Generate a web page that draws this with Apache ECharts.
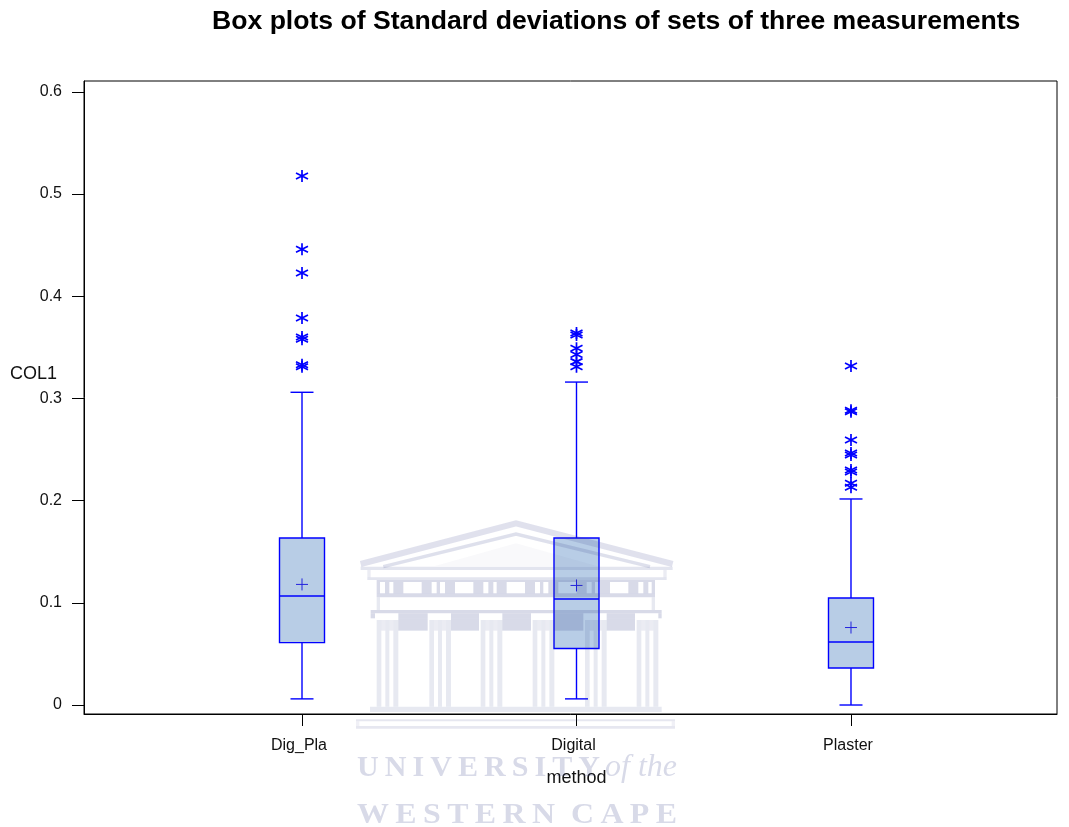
<!DOCTYPE html>
<html><head><meta charset="utf-8">
<style>html,body{margin:0;padding:0;background:#fff}#c{width:1069px;height:827px}</style>
<script src="https://cdn.jsdelivr.net/npm/echarts@6/dist/echarts.min.js"></script>
</head><body><div id="c"></div>
<script>
const categories = ['Dig_Pla', 'Digital', 'Plaster'];
const yTicks = [0, 0.1, 0.2, 0.3, 0.4, 0.5, 0.6];
const whiskerLow = [0.006, 0.006, 0];
const q1 = [0.061, 0.0553, 0.0362];
const median = [0.1066, 0.1037, 0.0616];
const q3 = [0.1634, 0.1634, 0.1047];
const whiskerHigh = [0.306, 0.316, 0.2016];
const means = [0.118, 0.117, 0.0758];
const outliersDigPla = [0.5176, 0.446, 0.4227, 0.3787, 0.3600, 0.3580, 0.3330, 0.3310];
const outliersDigital = [0.364, 0.362, 0.349, 0.343, 0.336, 0.331];
const outliersPlaster = [0.3317, 0.2885, 0.2870, 0.2593, 0.2466, 0.2446, 0.2300, 0.2280, 0.2170, 0.2130];

const BLUE = '#0000ff';
const star = 'path://M5 0L5 10M0.67 2.5L9.33 7.5M0.67 7.5L9.33 2.5';
const plus = 'path://M5 0L5 10M0 5L10 5';

const boxData = categories.map((c, i) => [i + 1, whiskerLow[i], q1[i], median[i], q3[i], whiskerHigh[i]]);
const meanData = categories.map((c, i) => [i + 1, means[i]]);
const outlierData = [outliersDigPla, outliersDigital, outliersPlaster]
  .flatMap((vals, i) => vals.map(v => [i + 1, v]));

function renderBox(params, api) {
  const x = api.value(0);
  const p = k => api.coord([x, api.value(k)]);
  const lo = p(1), a = p(2), m = p(3), b = p(4), hi = p(5);
  const BW = 22.5, CW = 11.5;
  const ls = { stroke: BLUE, lineWidth: 1.4, fill: null };
  const line = (x1, y1, x2, y2) => ({ type: 'line', shape: { x1, y1, x2, y2 }, style: ls });
  return { type: 'group', children: [
    { type: 'rect', shape: { x: a[0] - BW, y: b[1], width: BW * 2, height: a[1] - b[1] },
      style: { fill: '#b8cde6', stroke: BLUE, lineWidth: 1.4 } },
    line(a[0] - BW, m[1], a[0] + BW, m[1]),
    line(a[0], b[1], a[0], hi[1]),
    line(a[0], a[1], a[0], lo[1]),
    line(a[0] - CW, hi[1], a[0] + CW, hi[1]),
    line(a[0] - CW, lo[1], a[0] + CW, lo[1])
  ]};
}

/* University crest watermark laid over the plot, coordinates relative to its own crop */
const WM = 'rgba(60,70,140,';
const gx = z => 340 + z / 3, gy = z => 510 + z / 3;
const crest = [];
function R(x0, y0, x1, y1, a) {
  crest.push({ type: 'rect', silent: true, z: 100,
    shape: { x: gx(x0), y: gy(y0), width: (x1 - x0) / 3, height: (y1 - y0) / 3 },
    style: { fill: WM + a + ')' } });
}
function P(points, a, w) {
  crest.push({ type: 'polyline', silent: true, z: 100,
    shape: { points: points.map(q => [gx(q[0]), gy(q[1])]) },
    style: { stroke: WM + a + ')', lineWidth: w, fill: null } });
}
P([[62, 162], [528, 40], [998, 162]], 0.16, 6);
P([[130, 170], [528, 72], [930, 170]], 0.17, 3.5);
crest.push({ type: 'polygon', silent: true, z: 100,
  shape: { points: [[285, 168], [528, 100], [770, 168]].map(q => [gx(q[0]), gy(q[1])]) },
  style: { fill: WM + '0.03)' } });
R(62, 170, 998, 180, 0.14);
R(82, 202, 980, 210, 0.14);
R(82, 180, 92, 202, 0.1); R(970, 180, 980, 202, 0.1);
R(110, 210, 945, 216, 0.2);
R(110, 250, 945, 262, 0.2);
[[110,120],[135,148],[160,190],[245,275],[290,300],[315,345],[400,430],[445,460],[470,500],[555,585],[600,610],[625,655],[710,740],[755,765],[780,810],[865,895],[910,925],[935,945]]
  .forEach(s => R(s[0], 216, s[1], 250, 0.2));
R(110, 262, 120, 300, 0.12); R(935, 262, 945, 300, 0.12);
R(92, 300, 965, 310, 0.2);
const cols = [110, 268, 422, 578, 735, 890];
const capW = 65;
R(92, 310, cols[0] - 5, 325, 0.2);
cols.forEach((c, i) => {
  const nx = i < 5 ? cols[i + 1] - 5 : 965;
  R(c + capW, 310, nx, 325, 0.2);
  if (i < 5) R(c + capW, 325, nx, 362, 0.2);
  [[0, 14], [26, 38], [50, 65]].forEach(b => {
    R(c + b[0], 330, c + b[1], 590, 0.12);
  });
  [[14, 26], [38, 50]].forEach(b => R(c + b[0], 330, c + b[1], 362, 0.1));
});
R(90, 590, 965, 606, 0.12);
R(48, 628, 1005, 634, 0.13);
R(48, 634, 58, 648, 0.08); R(995, 634, 1005, 648, 0.08);
R(48, 648, 1005, 656, 0.13);

const mctx = document.createElement('canvas').getContext('2d');
function wmText(text, x, baseBottom, size, targetW, italic) {
  const font = (italic ? 'italic ' : 'bold ') + size + 'px "Liberation Serif"';
  mctx.font = font;
  const w = mctx.measureText(text).width;
  return { type: 'text', silent: true, z: 100, x, y: baseBottom, scaleX: targetW / w,
    style: { text, fill: WM + '0.2)', font, verticalAlign: 'bottom', align: 'left' } };
}
const hair = '\u2009';
crest.push(wmText('UNIVERSITY'.split('').join(hair), 357, 783, 30, 243, false));
crest.push(wmText('of the', 605, 783, 31, 72, true));
crest.push(wmText('WESTERN'.split('').join(hair) + '  ' + 'CAPE'.split('').join(hair), 357, 830, 30, 320, false));
crest.push({ type: 'text', z: 50, x: 10, y: 374,
  style: { text: 'COL1', fill: '#111', font: '18px "Liberation Sans"', verticalAlign: 'middle', align: 'left' } });

const chart = echarts.init(document.getElementById('c'), null, { renderer: 'canvas' });
chart.setOption({
  animation: false,
  backgroundColor: '#fff',
  textStyle: { fontFamily: 'Liberation Sans' },
  title: { text: 'Box plots of Standard deviations of sets of three measurements', left: 207, top: 3,
    textStyle: { fontFamily: 'Liberation Sans', fontSize: 26.6, fontWeight: 'bold', color: '#000' } },
  grid: { left: 84, right: 12, top: 81, bottom: 113, show: true, borderColor: '#000', borderWidth: 1,
    backgroundColor: 'transparent', outerBoundsMode: 'none', containLabel: false },
  xAxis: {
    type: 'value', min: 0.2058, max: 3.7505,
    name: 'method', nameLocation: 'middle', nameGap: 55,
    nameTextStyle: { fontSize: 18, color: '#111', padding: [0, 0, 0, 12] },
    axisLine: { show: true, onZero: false, lineStyle: { color: '#000' } },
    axisTick: { show: true, length: 12, lineStyle: { color: '#000' }, customValues: [1, 2, 3] },
    axisLabel: { customValues: [1, 2, 3], margin: 24, fontSize: 16, color: '#111', padding: [0, 6, 0, 0],
      formatter: v => categories[Math.round(v) - 1] },
    splitLine: { show: false }
  },
  yAxis: {
    type: 'value', min: -0.0088, max: 0.6106,
    axisLine: { show: true, onZero: false, lineStyle: { color: '#000' } },
    axisTick: { show: true, length: 12, lineStyle: { color: '#000' }, customValues: yTicks },
    axisLabel: { customValues: yTicks, margin: 22, fontSize: 16, color: '#111',
      formatter: v => (Math.abs(v) < 1e-9 ? '0' : v.toFixed(1)) },
    splitLine: { show: false }
  },
  series: [
    { type: 'custom', name: 'box', renderItem: renderBox, data: boxData,
      encode: { x: 0, y: [1, 2, 3, 4, 5] }, z: 2 },
    { type: 'scatter', name: 'mean', data: meanData, symbol: plus, symbolSize: 12, z: 3,
      itemStyle: { opacity: 1, color: 'none', borderColor: '#2222dd', borderWidth: 1 } },
    { type: 'scatter', name: 'outliers', data: outlierData, symbol: star, symbolSize: 12, z: 3,
      itemStyle: { opacity: 1, color: 'none', borderColor: BLUE, borderWidth: 1.7 } }
  ],
  graphic: { elements: crest }
});
</script></body></html>
